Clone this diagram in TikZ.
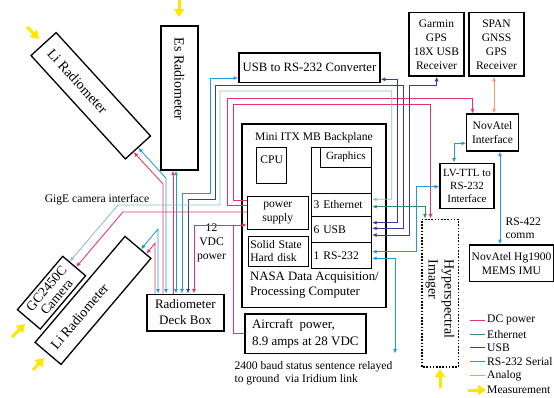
\documentclass[tikz,border=0pt]{standalone}
\usepackage{fontspec}
\setmainfont{Liberation Serif}
\usetikzlibrary{arrows.meta,calc}
\definecolor{dcpink}{HTML}{E5336C}
\definecolor{ethlt}{HTML}{8CC3B3}
\definecolor{ethdk}{HTML}{2E8C70}
\definecolor{usbblue}{HTML}{3C3A96}
\definecolor{rsblue}{HTML}{1F9BD7}
\definecolor{analog}{HTML}{F59A6A}
\definecolor{measyel}{HTML}{FFE500}
\begin{document}
\begin{tikzpicture}[x=1pt,y=-1pt,
  font=\fontsize{11.6}{13.6}\selectfont,
  >={Latex[length=4.5pt,width=4pt]},
  box/.style={draw, line width=1.6pt, inner sep=0pt, align=center},
  tbox/.style={draw, line width=1pt, inner sep=0pt, align=center},
  portbox/.style={draw, line width=1pt, text width=56pt, align=left, inner xsep=2pt, inner ysep=0pt, minimum width=60pt},
  radbox/.style={draw, line width=1.3pt, inner sep=0pt},
  wire/.style={line width=0.85pt},
  meas/.style={draw=measyel, line width=3pt, -{Triangle[length=8pt,width=10pt]}},
  fbig/.style={font=\fontsize{14}{16}\selectfont},
  fmid/.style={font=\fontsize{12.8}{15.5}\selectfont}]
\useasboundingbox (0,0) rectangle (554,397);

% ---------- boxes ----------
\node[box, minimum width=141pt, minimum height=29.6pt, font=\fontsize{12.7}{14}\selectfont] (conv) at (309.5,67.5) {USB to RS-232 Converter};
\node[box, minimum width=55pt, minimum height=63.3pt, font=\fontsize{11.5}{14}\selectfont] (garmin) at (436.5,44.3) {Garmin\\GPS\\18X USB\\Receiver};
\node[box, minimum width=55pt, minimum height=63.3pt, font=\fontsize{11.5}{14}\selectfont] (span) at (496.5,44.3) {SPAN\\GNSS\\GPS\\Receiver};
\node[box, line width=1.3pt, minimum width=51.6pt, minimum height=37pt, font=\fontsize{11.5}{13.3}\selectfont] (nov) at (492.5,132.5) {NovAtel\\Interface};
\node[box, minimum width=54pt, minimum height=45pt, font=\fontsize{11}{13.3}\selectfont] (lvttl) at (467,185.8) {LV-TTL to\\RS-232\\Interface};
\node[box, minimum width=84pt, minimum height=36.7pt, font=\fontsize{11.5}{13.6}\selectfont] (imu) at (511.5,263.3) {NovAtel Hg1900\\MEMS IMU};
\node[draw, line width=1.6pt, dash pattern=on 1.6pt off 1.6pt, inner sep=0pt, minimum width=147.4pt, minimum height=36.6pt, rotate=-90, align=left, fbig] (hyp) at (440,293) {\hspace*{12pt}Hyperspectral\\\hspace*{12pt}Imager};

\node[radbox, minimum width=144pt, minimum height=37pt, rotate=-90, fbig] (es) at (179.5,98) {Es Radiometer\hspace*{38pt}};
\node[radbox, minimum width=140pt, minimum height=34pt, rotate=-47.6, fbig] (lit) at (90.75,95.75) {Li Radiometer\hspace*{39pt}};
\node[radbox, minimum width=139pt, minimum height=34pt, rotate=49.7, fbig] (lib) at (93,300.4) {Li Radiometer\hspace*{42pt}};
\node[radbox, minimum width=70pt, minimum height=30pt, rotate=49.7, align=center, font=\fontsize{13.5}{13.5}\selectfont] (cam) at (51.5,292.7) {GC2450C\\Camera};

\node[box, minimum width=144pt, minimum height=183.3pt] (comp) at (314,215.7) {};
\node (comptitle) at (314,137.5) {Mini ITX MB Backplane};
\node[tbox, minimum width=30pt, minimum height=36pt] (cpu) at (271.7,165.3) {};
\node (cputxt) at (271.7,159.5) {CPU};
\node[tbox, minimum width=60pt, minimum height=46pt] (gcol) at (341.7,170.3) {};
\node[tbox, minimum width=51.7pt, minimum height=20pt, font=\fontsize{11}{12}\selectfont] (gfx) at (345.85,157.3) {Graphics};
\node[portbox, minimum height=23.4pt] (eth) at (341.7,205) {3 Ethernet};
\node[portbox, minimum height=26pt] (usb) at (341.7,229.7) {6 USB};
\node[portbox, minimum height=25.3pt] (rs) at (341.7,255.35) {1 RS-232};
\node[tbox, minimum width=61pt, minimum height=32.6pt] (ps) at (277.8,213) {power\\supply};
\node[portbox, minimum height=30pt] (ssd) at (278.3,251) {Solid State\\Hard disk};
\node[anchor=west, align=left, fmid] (nasa) at (246.5,285) {NASA Data Acquisition/\\Processing Computer};

\node[box, minimum width=77.3pt, minimum height=36.4pt, font=\fontsize{13}{16}\selectfont] (deck) at (185.35,312.5) {Radiometer\\Deck Box};
\node[box, minimum width=120.7pt, minimum height=39.3pt, align=left, font=\fontsize{13}{16.7}\selectfont] (air) at (305.35,333.65) {Aircraft\ \ power,\\8.9 amps at 28 VDC};

% ---------- free texts ----------
\node (gige) at (97,199.5) {GigE camera interface};
\node[align=center, font=\fontsize{11.6}{13.8}\selectfont] (vdc) at (211.5,243) {12\\VDC\\power};
\node[anchor=west, align=left, font=\fontsize{11.6}{13.3}\selectfont] (irtxt) at (231,373.3) {2400 baud status sentence relayed\\to ground\ \ via Iridium link};
\node[anchor=west, align=left, font=\fontsize{11.6}{13.3}\selectfont] (rs422) at (502,228.3) {RS-422\\comm};

% ---------- wires ----------
% Li radiometer (top)
\draw[wire, rsblue, <->] (deck.north -| 166,0) -- (166,178.2) -- (lit.east);
\draw[wire, dcpink, ->] (deck.north -| 163,0) -- (163,183.9) -- ($(lit.north east)!0.68!(lit.south east)$);
% Es radiometer
\draw[wire, dcpink, ->] (deck.north -| 173,0) -- (es.east -| 173,0);
\draw[wire, rsblue, <->] (deck.north -| 176,0) -- (es.east -| 176,0);
% Li radiometer (bottom)
\draw[wire, rsblue, <->] (deck.north -| 158,0) -- (158,229.1) -- ($(lib.north east)!0.6!(lib.south east)$);
\draw[wire, dcpink, ->] (deck.north -| 155,0) -- (155,243.2) -- ($(lib.north east)!0.8!(lib.south east)$);
% RS-232 converter to deck box
\draw[wire, rsblue, <->] (deck.north -| 182,0) -- (182,193) -- (210,193) -- (210,78) -- (conv.west |- 0,78);
% USB deck box
\draw[wire, usbblue, <->] (deck.north -| 188,0) -- (188,199) -- (215,199) -- (215,85) -- (403,85) -- (403,228.3) -- (usb.east |- 0,228.3);
% 12 VDC power
\coordinate (vj) at (233,225);
\draw[wire, dcpink, ->] (air.west |- 0,333.3) -- (233,333.3) -- (vj) -- (ps.west |- vj);
\draw[wire, dcpink, ->] (vj) -- (194,225) -- (deck.north -| 194,0);
% DC power to NovAtel and hyperspectral
\draw[wire, dcpink, ->] (ps.west |- 0,205) -- (227,205) -- (227,98) -- (472.5,98) -- (nov.north -| 472.5,0);
\draw[wire, dcpink, ->] (ps.west |- 0,200) -- (233,200) -- (233,104) -- (430.5,104) -- (hyp.west -| 430.5,0);
% camera
\draw[wire, dcpink, ->] (ps.west |- 0,212) -- (122.9,212) -- ($(cam.north east)!0.57!(cam.south east)$);
\draw[wire, ethlt, <->] (eth.east |- 0,199.3) -- (391.7,199.3) -- (391.7,91) -- (220,91) -- (220,205) -- (118,205) -- ($(cam.north east)!0.3!(cam.south east)$);
% USB converter and Garmin
\draw[wire, usbblue, <->] (conv.east |- 0,79.3) -- (397,79.3) -- (397,222.7) -- (usb.east |- 0,222.7);
\draw[wire, usbblue, <->] (garmin.south -| 436.7,0) -- (436.7,85) -- (409,85) -- (409,235) -- (usb.east |- 0,235);
% Ethernet hyperspectral
\draw[wire, ethdk, <->] (eth.east |- 0,206.7) -- (425,206.7) -- (hyp.west -| 425,0);
% RS-232
\draw[wire, rsblue, <->] (rs.east |- 0,251.7) -- (416.7,251.7) -- (416.7,186.7) -- (lvttl.west |- 0,186.7);
\coordinate (irid) at (395,353.5);
\draw[wire, rsblue, <->] (rs.east |- 0,258.3) -- (395,258.3) -- (irid);
\draw[wire, rsblue, <->] (nov.west |- 0,143.3) -- (454,143.3) -- (lvttl.north -| 454,0);
\draw[wire, rsblue, <->] (nov.south -| 500,0) -- (imu.north -| 500,0);
\draw[wire, analog, <->] (span.south -| 494,0) -- (nov.north -| 494,0);

% ---------- measurement arrows ----------
\draw[meas] (27,27) -- (39,39);
\draw[meas] (179,-1) -- (179,17);
\draw[meas] (12,337) -- (25,324);
\draw[meas] (33,370) -- (44,358);
\draw[meas] (440,388) -- (440,369);

% ---------- legend ----------
\foreach \c/\yy/\t [count=\i] in {dcpink/320/DC power, ethdk/334.3/Ethernet, usbblue/347.5/USB, rsblue/361.3/RS-232 Serial, analog/375.3/Analog} {
  \draw[wire, \c] (470,\yy) -- (485,\yy);
  \node[anchor=west, inner sep=1.5pt] (leg\i) at (485.5,\yy) {\t};
}
\draw[meas] (468,390) -- (486,390);
\node[anchor=west, inner sep=1.5pt] (leg6) at (485.5,390) {Measurement};
\end{tikzpicture}
\end{document}
